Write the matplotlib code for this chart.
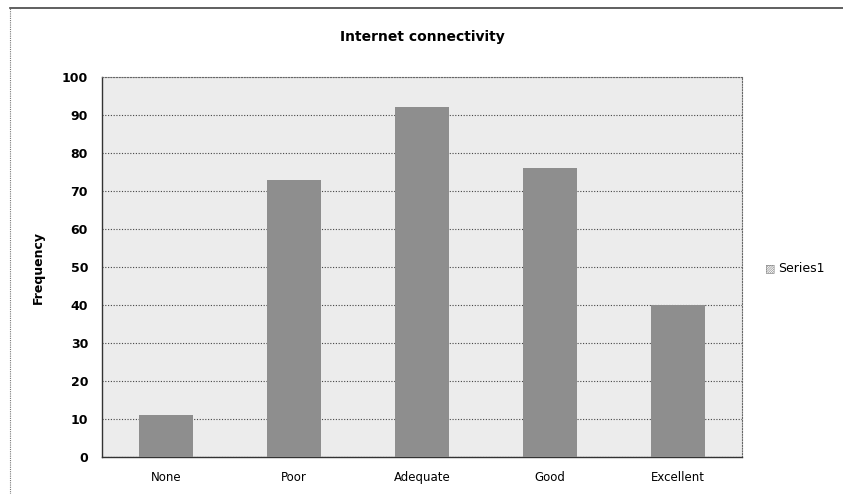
import matplotlib
matplotlib.use("Agg")
import matplotlib.pyplot as plt
from matplotlib.lines import Line2D

# connectivity ratings and how many respondents picked each
categories = ["None", "Poor", "Adequate", "Good", "Excellent"]
frequency = [11, 73, 92, 76, 40]
y_ticks = list(range(0, 101, 10))

plt.rcParams['font.family'] = ['DejaVu Sans']

fig = plt.figure(figsize=(8.43, 4.94), dpi=100)
ax = fig.add_axes([102 / 843, 37 / 494, 640 / 843, 380 / 494])
ax.set_facecolor("#ececec")

x = range(len(categories))
ax.bar(x, frequency, width=0.42, color="#8e8e8e", zorder=3)

ax.set_xlim(-0.5, len(categories) - 0.5)
ax.set_ylim(0, 100)
ax.set_yticks(y_ticks)
ax.set_xticks(list(x))
ax.set_xticklabels(categories, fontsize=8.5)
ax.tick_params(axis="y", labelsize=9, length=0, pad=10)
ax.tick_params(axis="x", length=0, pad=10)
for lbl in ax.get_yticklabels():
    lbl.set_fontweight("bold")

ax.yaxis.grid(True, color="#444444", linestyle=(0, (1, 1.5)), linewidth=0.8, zorder=1)

for side in ("left", "bottom"):
    ax.spines[side].set_color("#333333")
    ax.spines[side].set_linewidth(1.0)
for side in ("top", "right"):
    ax.spines[side].set_color("#666666")
    ax.spines[side].set_linestyle((0, (1, 1.5)))
    ax.spines[side].set_linewidth(0.8)

ax.set_ylabel("Frequency", fontsize=9, fontweight="bold", labelpad=12)
fig.text(422 / 843, 1 - 37 / 494, "Internet connectivity",
         ha="center", va="center", fontsize=10, fontweight="bold")

# legend entry on the right
fig.text(770 / 843, 1 - 268 / 494, "\u25a8", ha="center", va="center",
         fontsize=8, color="#888888")
fig.text(778 / 843, 1 - 268 / 494, "Series1", ha="left", va="center", fontsize=9)

# frame lines along the top and left edge of the chart
fig.add_artist(Line2D([10 / 843, 1], [1 - 8 / 494, 1 - 8 / 494],
                      transform=fig.transFigure, color="#444444", linewidth=1.2))
fig.add_artist(Line2D([10 / 843, 10 / 843], [0, 1 - 8 / 494],
                      transform=fig.transFigure, color="#777777", linewidth=0.8,
                      linestyle=(0, (1, 1))))

fig.savefig("out.png", dpi=100)
